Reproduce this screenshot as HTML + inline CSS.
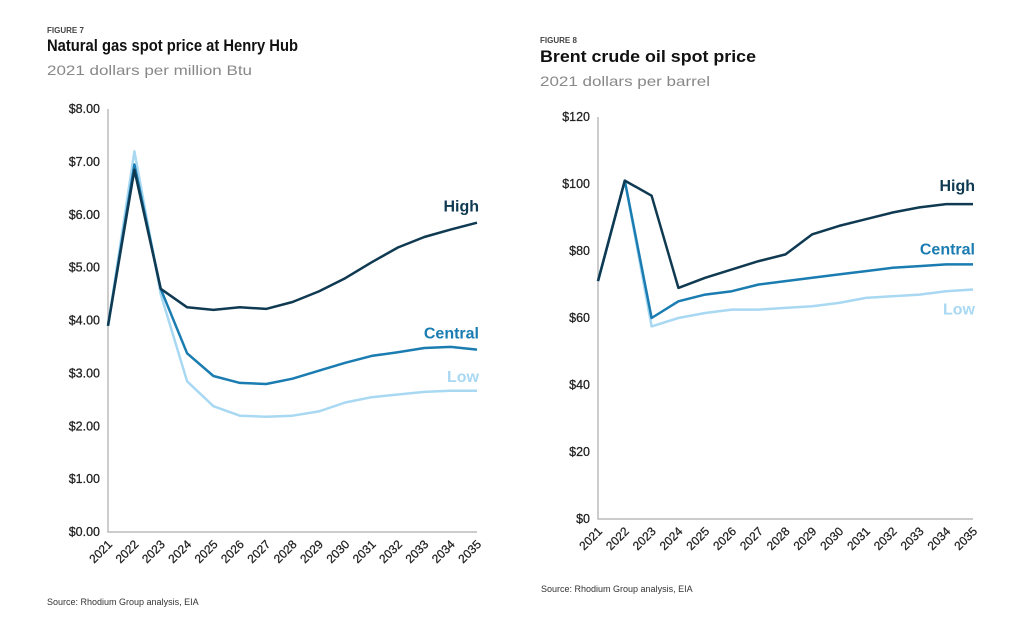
<!DOCTYPE html>
<html><head><meta charset="utf-8"><style>
body{margin:0;background:#fff;}
svg{display:block;font-family:"Liberation Sans",sans-serif;}
</style></head><body>
<svg id="s" width="1012" height="620" viewBox="0 0 1012 620">
<text x="47" y="33" font-size="8" font-weight="bold" fill="#444">FIGURE 7</text>
<text x="47" y="51" font-size="17" font-weight="bold" fill="#111" textLength="251" lengthAdjust="spacingAndGlyphs">Natural gas spot price at Henry Hub</text>
<text x="47" y="75" font-size="14" fill="#888" textLength="205" lengthAdjust="spacingAndGlyphs">2021 dollars per million Btu</text>
<text x="540" y="43" font-size="8" font-weight="bold" fill="#444">FIGURE 8</text>
<text x="540" y="62" font-size="17" font-weight="bold" fill="#111" textLength="216" lengthAdjust="spacingAndGlyphs">Brent crude oil spot price</text>
<text x="540" y="86" font-size="14" fill="#888" textLength="170" lengthAdjust="spacingAndGlyphs">2021 dollars per barrel</text>
<text x="47" y="605" font-size="9" fill="#333">Source: Rhodium Group analysis, EIA</text>
<text x="541" y="592" font-size="9" fill="#333">Source: Rhodium Group analysis, EIA</text>
</svg>
<script>
const years = ["2021","2022","2023","2024","2025","2026","2027","2028","2029","2030","2031","2032","2033","2034","2035"];
const gasTicks = [0,1,2,3,4,5,6,7,8];
const gasTickLabels = ["$0.00","$1.00","$2.00","$3.00","$4.00","$5.00","$6.00","$7.00","$8.00"];
const gasHigh = [3.9,6.85,4.6,4.25,4.2,4.25,4.22,4.35,4.55,4.8,5.1,5.38,5.58,5.72,5.85];
const gasCentral = [3.9,6.95,4.6,3.38,2.95,2.82,2.8,2.9,3.05,3.2,3.33,3.4,3.48,3.5,3.45];
const gasLow = [3.9,7.2,4.5,2.85,2.38,2.2,2.18,2.2,2.28,2.45,2.55,2.6,2.65,2.67,2.67];
const oilTicks = [0,20,40,60,80,100,120];
const oilTickLabels = ["$0","$20","$40","$60","$80","$100","$120"];
const oilHigh = [71,101,96.5,69,72,74.5,77,79,85,87.5,89.5,91.5,93,94,94];
const oilCentral = [71,101,60,65,67,68,70,71,72,73,74,75,75.5,76,76];
const oilLow = [71,101,57.5,60,61.5,62.5,62.5,63,63.5,64.5,66,66.5,67,68,68.5];

const NS="http://www.w3.org/2000/svg";
const svg=document.getElementById('s');
function mk(tag,attrs,parent){const e=document.createElementNS(NS,tag);for(const k in attrs)e.setAttribute(k,attrs[k]);(parent||svg).appendChild(e);return e;}
const colors={High:"#0f3a52",Central:"#1a7cb0",Low:"#a8d8f2"};

function drawChart(prefix,cfg){
  const g=mk('g',{});
  
  
  const x=i=>cfg.x0+(cfg.x1-cfg.x0)*i/(years.length-1);
  const y=v=>cfg.y0-(cfg.y0-cfg.y1)*v/cfg.max;
  const ax=mk('path',{d:`M${cfg.x0},${y(cfg.max)} L${cfg.x0},${cfg.y0} L${cfg.x1},${cfg.y0}`,fill:'none',stroke:'#bbb','stroke-width':1.5},g);
  
  
  cfg.ticks.forEach((t,i)=>{
    const tx=mk('text',{x:cfg.x0-8,y:y(t)+4,'font-size':12.5,'text-anchor':'end',fill:'#222','stroke':'#222','stroke-width':0.25},g);
    tx.textContent=cfg.tickLabels[i];
    
    
  });
  years.forEach((yr,i)=>{
    const ax_=x(i)+5, ay=cfg.y0+13;
    const tx=mk('text',{x:ax_,y:ay,'font-size':12,'text-anchor':'end',fill:'#222','stroke':'#222','stroke-width':0.25,transform:`rotate(-45 ${ax_} ${ay})`},g);
    tx.textContent=yr;
    
    
  });
  [['Low',cfg.low],['Central',cfg.central],['High',cfg.high]].forEach(([nm,arr])=>{
    const d=arr.map((v,i)=>(i?'L':'M')+x(i).toFixed(1)+','+y(v).toFixed(1)).join(' ');
    const p=mk('path',{d,fill:'none',stroke:colors[nm],'stroke-width':2.5,'stroke-linejoin':'round'},g);
    
    
    const last=arr[arr.length-1];
    const lb=mk('text',{x:cfg.x1+2,y:y(last)+cfg.labelOff[nm],'font-size':16,'font-weight':'bold','text-anchor':'end',fill:colors[nm]},g);
    lb.textContent=nm;
    
    
  });
}
drawChart('gas',{x0:108,x1:477,y0:532,y1:109,max:8,ticks:gasTicks,tickLabels:gasTickLabels,high:gasHigh,central:gasCentral,low:gasLow,labelOff:{High:-11,Central:-11,Low:-9}});
drawChart('oil',{x0:598,x1:973,y0:519,y1:117,max:120,ticks:oilTicks,tickLabels:oilTickLabels,high:oilHigh,central:oilCentral,low:oilLow,labelOff:{High:-13,Central:-10,Low:25}});
</script>
</body></html>
